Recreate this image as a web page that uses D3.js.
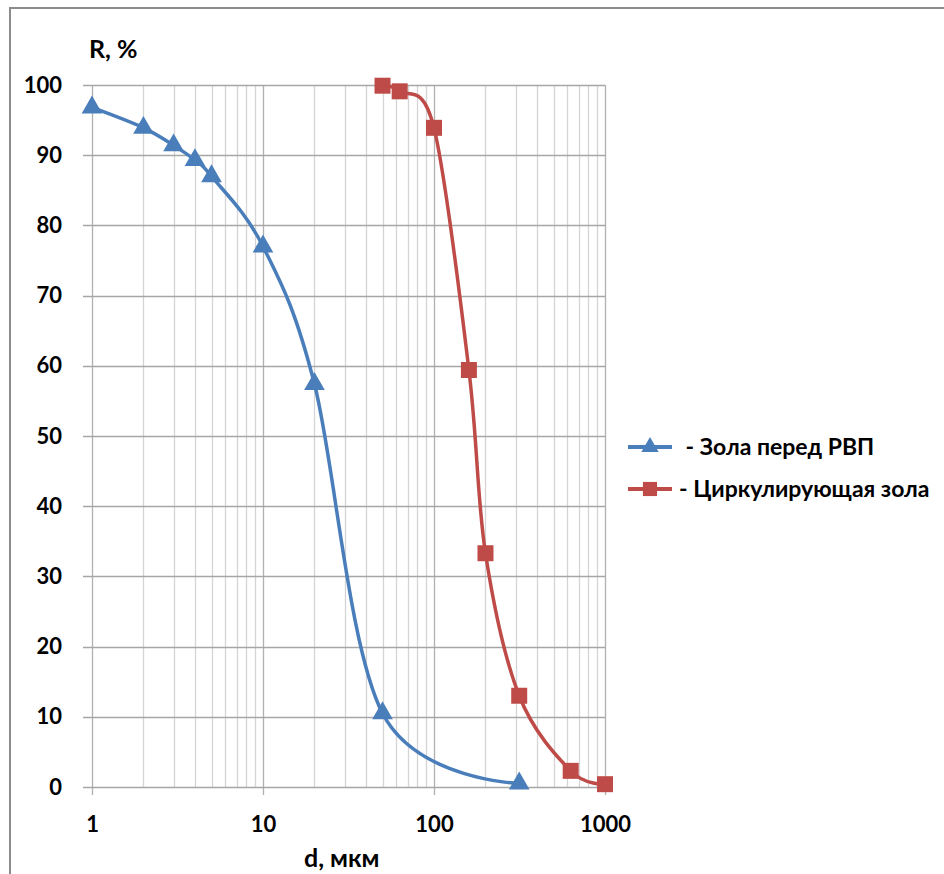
<!DOCTYPE html>
<html>
<head>
<meta charset="utf-8">
<script src="https://cdn.jsdelivr.net/npm/d3@7"></script>
<style>
  body { margin: 0; background: #fff; }
  svg { display: block; font-family: Lato, "Open Sans", sans-serif; font-weight: bold; }
</style>
</head>
<body>
<script>
var width = 944;
var height = 874;

// данные
var seriesNames = [" - Зола перед РВП", "- Циркулирующая зола"];
var ashBeforeD = [1, 2, 3, 4, 5, 10, 20, 50, 315];
var ashBeforeR = [96.8, 93.9, 91.4, 89.3, 87.0, 77.0, 57.4, 10.5, 0.5];
var circD = [50, 63, 100, 160, 200, 315, 630, 1000];
var circR = [99.9, 99.1, 93.9, 59.4, 33.3, 13.0, 2.3, 0.4];
var xTicks = [1, 10, 100, 1000];
var yTicks = [0, 10, 20, 30, 40, 50, 60, 70, 80, 90, 100];

var svg = d3.select("body").append("svg")
    .attr("width", width)
    .attr("height", height);

// рамка
svg.append("path")
    .attr("d", "M10,874 V8 H944")
    .attr("fill", "none")
    .attr("stroke", "#8c8c8c")
    .attr("stroke-width", 2);

var margin = { top: 85, left: 92, right: 339, bottom: 87 };
var plotW = width - margin.left - margin.right;
var plotH = height - margin.top - margin.bottom;

var plot = svg.append("g")
    .attr("transform", "translate(" + margin.left + "," + margin.top + ")");

var x = d3.scaleLog().domain([1, 1000]).range([0, plotW]);
var y = d3.scaleLinear().domain([0, 100]).range([plotH, 0]);

// вспомогательная сетка
var minor = [];
[1, 10, 100].forEach(function (dec) {
    for (var k = 2; k <= 9; k++) minor.push(dec * k);
});
plot.append("g").selectAll("line").data(minor).join("line")
    .attr("x1", d => Math.round(x(d)) + 0.5).attr("x2", d => Math.round(x(d)) + 0.5)
    .attr("y1", 0).attr("y2", plotH)
    .attr("stroke", "#d4d4d4").attr("stroke-width", 1.3);

plot.append("g").selectAll("line").data(xTicks).join("line")
    .attr("x1", d => Math.round(x(d)) + 0.5).attr("x2", d => Math.round(x(d)) + 0.5)
    .attr("y1", 0).attr("y2", plotH + 8)
    .attr("stroke", "#b0b0b0").attr("stroke-width", 1.3);

plot.append("g").selectAll("line").data(yTicks).join("line")
    .attr("x1", -9).attr("x2", plotW)
    .attr("y1", d => Math.round(y(d)) + 0.5).attr("y2", d => Math.round(y(d)) + 0.5)
    .attr("stroke", "#a6a6a6").attr("stroke-width", 1.3);

// подписи осей
var yAxis = d3.axisLeft(y).tickValues(yTicks).tickSize(0).tickPadding(30);
plot.append("g").call(yAxis)
    .call(g => g.select(".domain").remove())
    .selectAll("text")
    .attr("font-size", 22).attr("font-weight", "bold").attr("fill", "#000")
    .attr("font-family", "Lato, sans-serif");

var xAxis = d3.axisBottom(x).tickValues(xTicks).tickFormat(d3.format("d")).tickSize(0).tickPadding(29);
plot.append("g").attr("transform", "translate(0," + plotH + ")").call(xAxis)
    .call(g => g.select(".domain").remove())
    .selectAll("text")
    .attr("font-size", 22).attr("font-weight", "bold").attr("fill", "#000")
    .attr("font-family", "Lato, sans-serif");

svg.append("text").attr("x", 89).attr("y", 58)
    .attr("font-size", 25).text("R, %");
svg.append("text").attr("x", 304).attr("y", 867)
    .attr("font-size", 25).text("d, мкм");

// линии
var line = d3.line()
    .x(d => x(d[0])).y(d => y(d[1]))
    .curve(d3.curveCatmullRom.alpha(0));

var blue = "#4a7ebb";
var red = "#be4b48";

var series = [
    { d: ashBeforeD, r: ashBeforeR, color: blue, sym: d3.symbolTriangle },
    { d: circD, r: circR, color: red, sym: d3.symbolSquare }
];

series.forEach(function (s) {
    var pts = s.d.map((v, i) => [v, s.r[i]]);
    plot.append("path").datum(pts)
        .attr("d", line)
        .attr("fill", "none")
        .attr("stroke", s.color)
        .attr("stroke-width", 3.5);
    plot.append("g").selectAll("path").data(pts).join("path")
        .attr("transform", d => "translate(" + x(d[0]) + "," + y(d[1]) + ")")
        .attr("d", d3.symbol().type(s.sym).size(s.sym === d3.symbolTriangle ? 185 : 256))
        .attr("fill", s.color);
});

// легенда
var legend = svg.append("g").attr("transform", "translate(628,447)");
series.forEach(function (s, i) {
    var g = legend.append("g").attr("transform", "translate(0," + (i * 42) + ")");
    g.append("line").attr("x1", 0).attr("x2", 44).attr("y1", 0).attr("y2", 0)
        .attr("stroke", s.color).attr("stroke-width", 4);
    g.append("path").attr("transform", "translate(22,0)")
        .attr("d", d3.symbol().type(s.sym).size(s.sym === d3.symbolTriangle ? 130 : 200))
        .attr("fill", s.color);
    g.append("text").attr("x", i === 0 ? 52 : 51).attr("y", 8)
        .attr("font-size", 23).attr("xml:space", "preserve")
        .style("white-space", "pre")
        .text(seriesNames[i]);
});
</script>
</body>
</html>
